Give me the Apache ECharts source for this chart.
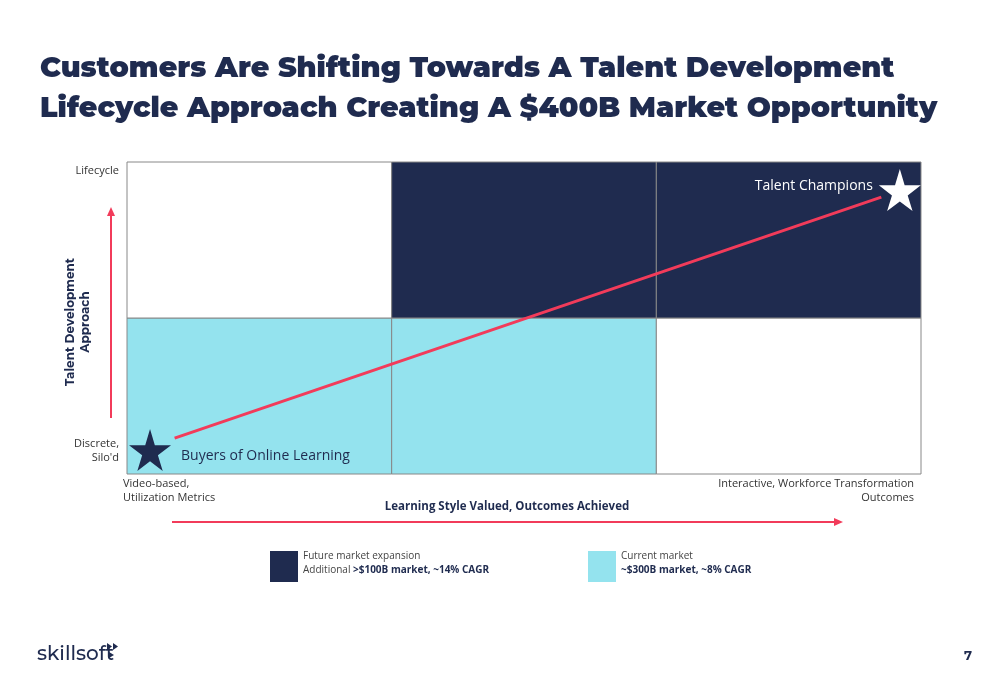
<!DOCTYPE html>
<html style="height: 100%">
<head>
    <meta charset="utf-8">
</head>
<body style="height: 100%; margin: 0; background: #fff">
<div id="container" style="width: 1000px; height: 685px"></div>
<script src="https://cdn.jsdelivr.net/npm/echarts@6/dist/echarts.min.js"></script>
<script type="text/javascript">
    var dom = document.getElementById("container");
    var myChart = echarts.init(dom);

    // cells: [x0, y0, x1, y1, colour key]
    var cells = [
        [0, 0, 1, 1, 'current'], [1, 0, 2, 1, 'current'], [2, 0, 3, 1, 'empty'],
        [0, 1, 1, 2, 'empty'], [1, 1, 2, 2, 'future'], [2, 1, 3, 2, 'future']
    ];
    var trendLine = [[0.18, 0.23], [2.85, 1.775]];
    var stars = [
        { name: 'Buyers of Online Learning', value: [0.087, 0.154], dark: true },
        { name: 'Talent Champions', value: [2.92, 1.82], dark: false }
    ];
    var colours = { current: '#94e3ee', future: '#1f2b4f', empty: '#ffffff' };
    var legendItems = [
        ['future', 'Future market expansion', 'Additional ', '>$100B market, ~14% CAGR'],
        ['current', 'Current market', '', '~$300B market, ~8% CAGR']
    ];

    var font = 'Montserrat, "Open Sans", sans-serif';
    var small = '11px "Open Sans", sans-serif';
    var graphics = [
        { type: 'text', left: 40, top: 49, style: { text: 'Customers Are Shifting Towards A Talent Development\nLifecycle Approach Creating A $400B Market Opportunity', font: '900 28.5px ' + font, fill: '#1f2b4f', lineHeight: 40 } },
        { type: 'text', x: 119, y: 165, style: { text: 'Lifecycle', font: small, fill: '#333', align: 'right' } },
        { type: 'text', x: 119, y: 437, style: { text: 'Discrete,\nSilo\'d', font: small, fill: '#333', align: 'right', lineHeight: 14 } },
        { type: 'text', x: 123, y: 477, style: { text: 'Video-based,\nUtilization Metrics', font: small, fill: '#333', lineHeight: 14 } },
        { type: 'text', x: 914, y: 477, style: { text: 'Interactive, Workforce Transformation\nOutcomes', font: small, fill: '#333', align: 'right', lineHeight: 14 } },
        { type: 'text', x: 507, y: 501, style: { text: 'Learning Style Valued, Outcomes Achieved', font: 'bold 11.5px "Open Sans", sans-serif', fill: '#1f2b4f', align: 'center' } },
        { type: 'group', x: 78, y: 322, rotation: Math.PI / 2, children: [
            { type: 'text', style: { x: 0, y: 0, text: 'Talent Development\nApproach', font: 'bold 12px ' + font, fill: '#1f2b4f', align: 'center', verticalAlign: 'middle', lineHeight: 15 } }
        ] },
        { type: 'line', shape: { x1: 111, y1: 418, x2: 111, y2: 215 }, style: { stroke: '#f23b5a', lineWidth: 2 } },
        { type: 'polygon', shape: { points: [[107, 216], [115, 216], [111, 207]] }, style: { fill: '#f23b5a' } },
        { type: 'line', shape: { x1: 172, y1: 522, x2: 835, y2: 522 }, style: { stroke: '#f23b5a', lineWidth: 2 } },
        { type: 'polygon', shape: { points: [[834, 518], [834, 526], [843, 522]] }, style: { fill: '#f23b5a' } },
        { type: 'text', left: 37, top: 644, style: { text: 'skillsoft', font: '500 20px ' + font, fill: '#1f2b4f' } },
        { type: 'polygon', shape: { points: [[107, 643], [107, 650], [112, 646.5]] }, style: { fill: '#1f2b4f' } },
        { type: 'polygon', shape: { points: [[113, 643], [113, 650], [118, 646.5]] }, style: { fill: '#1f2b4f' } },
        { type: 'polygon', shape: { points: [[109, 652], [109, 658], [114, 655]] }, style: { fill: '#1f2b4f' } },
        { type: 'text', left: 964, top: 650, style: { text: '7', font: 'bold 13px ' + font, fill: '#1f2b4f' } }
    ];
    legendItems.forEach(function (it, i) {
        var x = i === 0 ? 270 : 588;
        graphics.push({ type: 'rect', shape: { x: x, y: 551, width: 28, height: 31 }, style: { fill: colours[it[0]] } });
        graphics.push({ type: 'text', left: x + 33, top: 551, style: { text: it[1], font: '10px "Open Sans", sans-serif', fill: '#444' } });
        graphics.push({ type: 'text', left: x + 33, top: 565, style: {
            text: '{n|' + it[2] + '}{b|' + it[3] + '}',
            rich: { n: { fill: '#444', font: '10px "Open Sans", sans-serif' }, b: { fill: '#1f2b4f', font: 'bold 10px "Open Sans", sans-serif' } } } });
    });

    var option = {
        animation: false,
        grid: { left: 127, right: 79, top: 162, bottom: 211 },
        xAxis: { type: 'value', min: 0, max: 3, interval: 1, axisLabel: { show: false }, axisTick: { show: false },
            axisLine: { show: false }, splitLine: { show: false } },
        yAxis: { type: 'value', min: 0, max: 2, interval: 1, axisLabel: { show: false }, axisTick: { show: false },
            axisLine: { show: false }, splitLine: { show: false } },
        graphic: graphics,
        series: [
            {
                type: 'custom',
                data: cells,
                renderItem: function (params, api) {
                    var p0 = api.coord([api.value(0), api.value(3)]);
                    var p1 = api.coord([api.value(2), api.value(1)]);
                    return { type: 'rect', shape: { x: p0[0], y: p0[1], width: p1[0] - p0[0], height: p1[1] - p0[1] },
                        style: { fill: colours[cells[params.dataIndex][4]], stroke: '#888', lineWidth: 1 } };
                }
            },
            {
                type: 'line', data: trendLine, symbol: 'none',
                lineStyle: { color: '#f23b5a', width: 3 }
            },
            {
                type: 'scatter', symbol: 'path://M50,0 L61,35 L98,35 L68,57 L79,91 L50,70 L21,91 L32,57 L2,35 L39,35 Z',
                symbolSize: 42,
                data: stars.map(function (s) { return { value: s.value, name: s.name, itemStyle: { color: s.dark ? '#1f2b4f' : '#ffffff', opacity: 1 } }; }),
                label: {
                    show: true, formatter: '{b}', fontFamily: '"Open Sans", sans-serif', fontSize: 14,
                    color: '#1f2b4f'
                }
            }
        ]
    };
    option.series[2].data[0].label = { position: 'right', distance: 10, offset: [0, 6], color: '#1f2b4f' };
    option.series[2].data[1].label = { position: 'left', distance: 6, offset: [0, -4], color: '#ffffff' };
    myChart.setOption(option);
</script>
</body>
</html>
